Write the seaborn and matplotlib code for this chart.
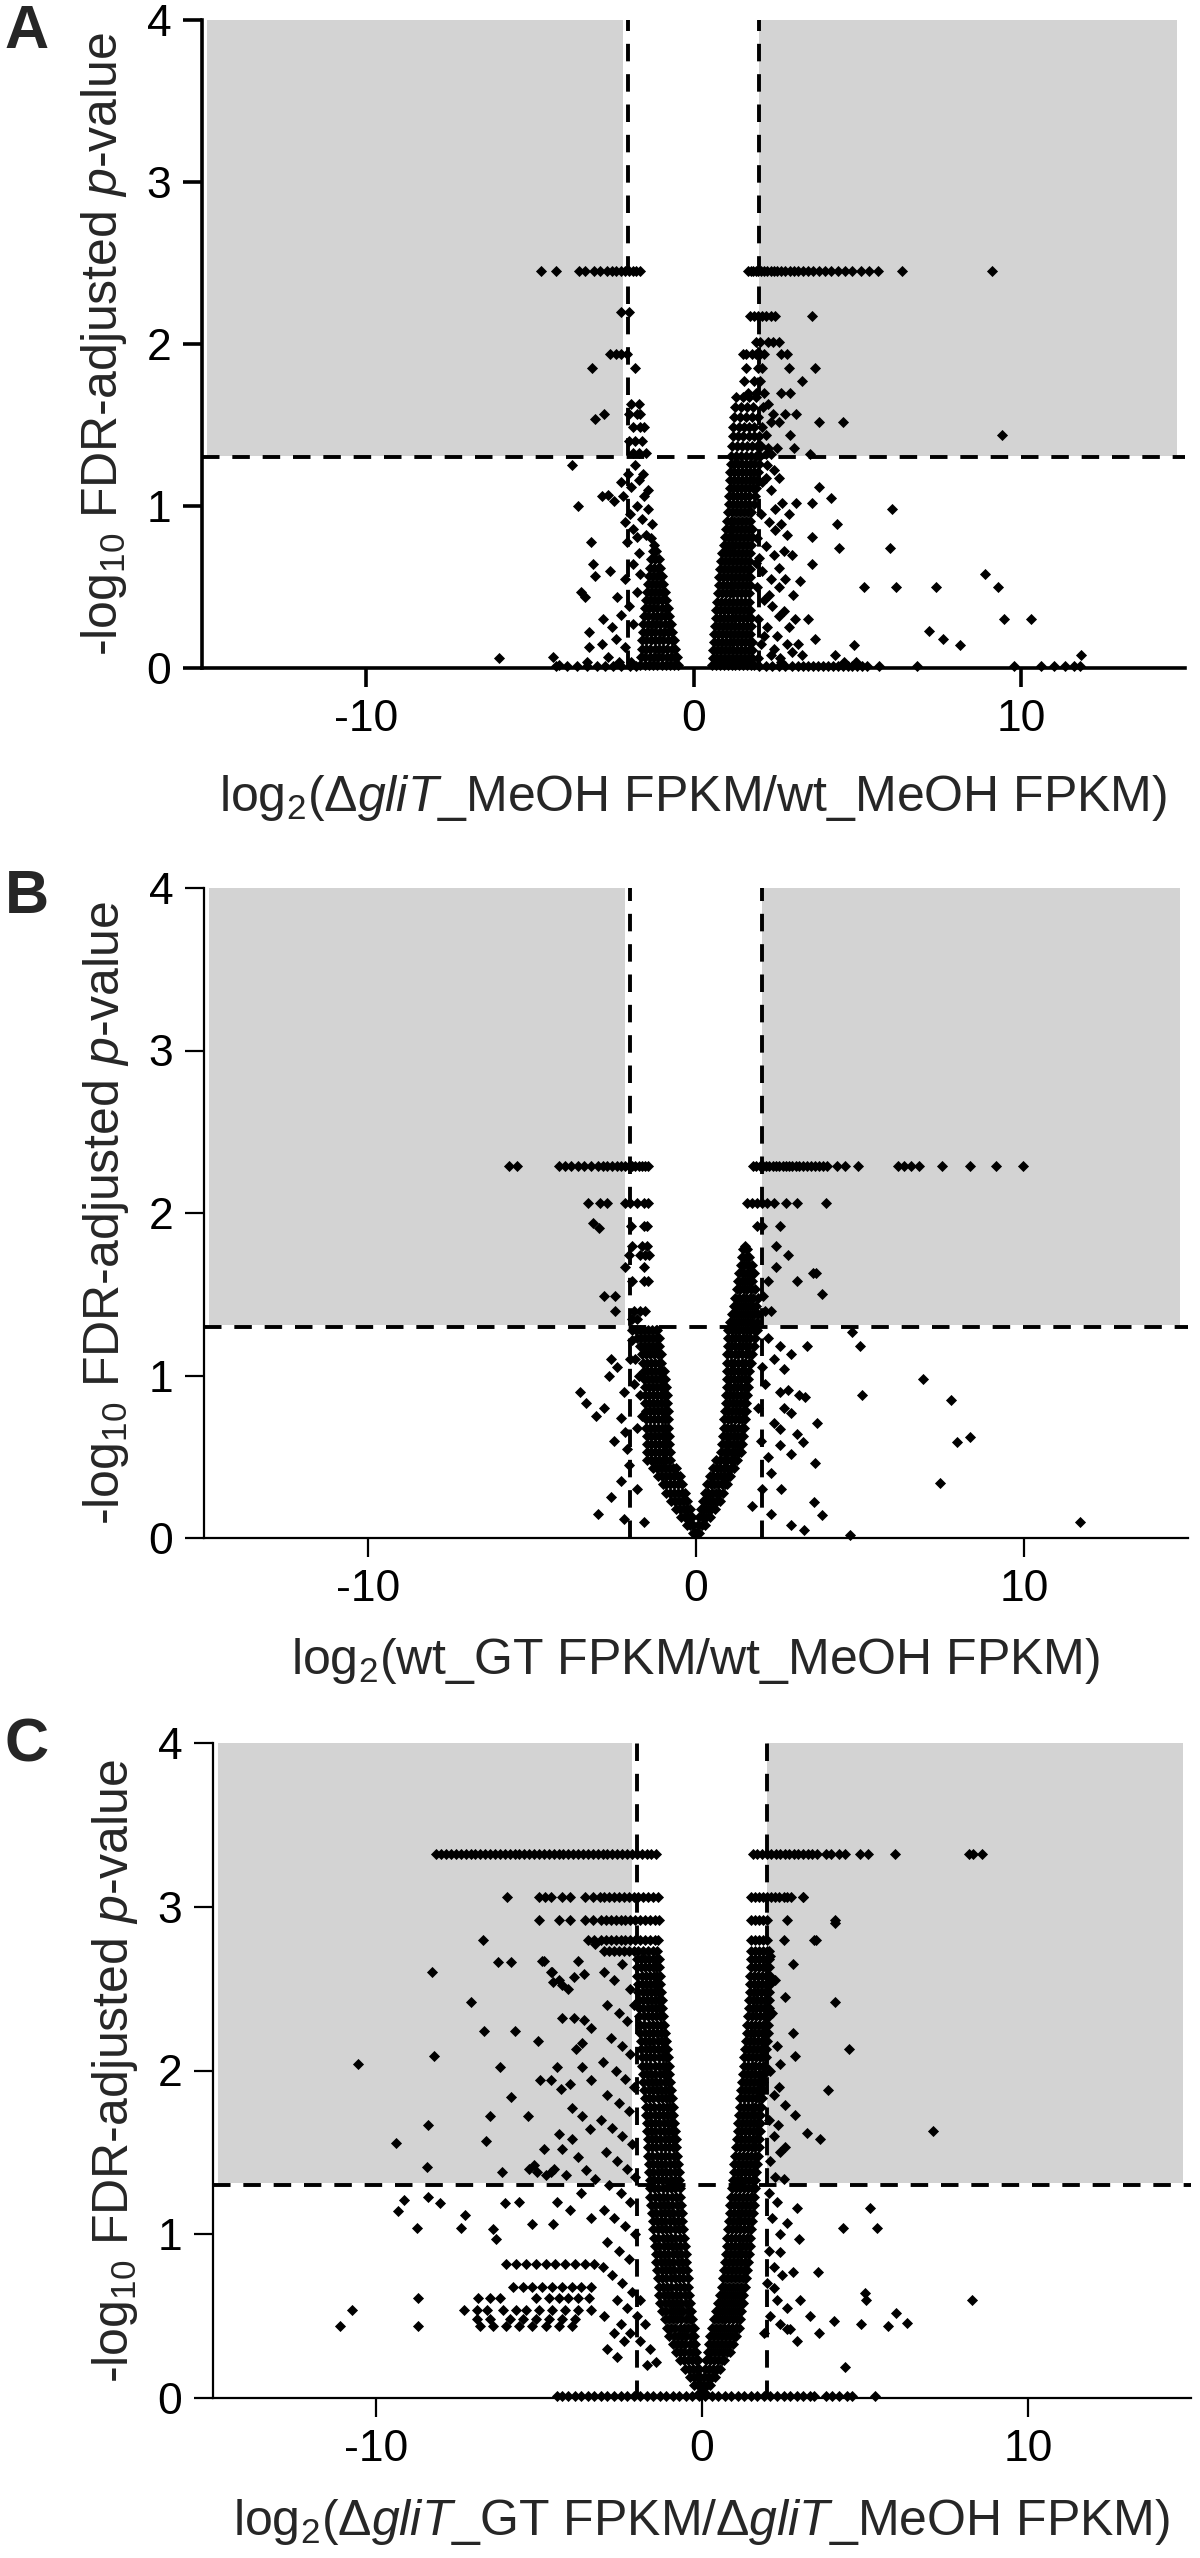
"""Volcano plots (A-C): -log10 FDR-adjusted p-value vs log2 fold change."""

import matplotlib.pyplot as plt
import pandas as pd
import seaborn as sns
from matplotlib.patches import Rectangle

# ---------------------------------------------------------------------------
# Panel A: log2(dgliT_MeOH FPKM / wt_MeOH FPKM)
# rows are (y, [x, ...]); pairs are (x, y)
# ---------------------------------------------------------------------------
a_top_y = 2.45
a_top_x = [-4.65, -4.2, -3.5, -3.3, -3.05, -2.85, -2.65, -2.5, -2.35, -2.2, -2.08,
           -1.97, -1.86, -1.75, -1.64,
           1.66, 1.74, 1.82, 1.9, 1.98, 2.06, 2.15, 2.25, 2.35, 2.45, 2.56, 2.68,
           2.8, 2.93, 3.06, 3.2, 3.35, 3.5, 3.65, 3.82, 4.0, 4.2, 4.4, 4.62, 4.85,
           5.1, 5.35, 5.62, 6.35, 9.1]

a_base_x = [-4.2, -3.85, -3.55, -3.25, -2.95, -2.7, -2.45, -2.2, -1.95, -1.75,
            2.0, 2.2, 2.4, 2.6, 2.8, 3.0, 3.2, 3.35, 3.5, 3.65, 3.8, 3.95, 4.1,
            4.25, 4.4, 4.55, 4.7, 4.85, 5.0, 5.15, 5.3, 5.66, 6.83, 9.77, 10.6,
            11.0, 11.35, 11.6, 11.8]

a_sig = [(1.73, 2.17), (1.85, 2.17), (1.96, 2.17), (2.08, 2.17), (2.2, 2.17),
         (2.37, 2.17), (2.49, 2.17), (3.61, 2.17), (1.9, 2.01), (2.02, 2.01),
         (2.26, 2.01), (2.43, 2.01), (2.61, 2.01), (1.5, 1.94), (1.61, 1.94),
         (1.79, 1.94), (1.9, 1.94), (2.02, 1.94), (2.14, 1.94), (2.67, 1.94),
         (2.84, 1.94), (1.61, 1.85), (1.96, 1.85), (2.08, 1.85), (2.9, 1.85),
         (3.72, 1.85), (1.55, 1.77), (1.85, 1.77), (2.02, 1.77), (3.31, 1.77),
         (1.67, 1.7), (1.9, 1.7), (2.14, 1.7), (2.67, 1.7), (2.96, 1.7),
         (2.26, 1.63), (2.43, 1.57), (2.78, 1.57), (3.14, 1.57), (2.37, 1.52),
         (2.61, 1.52), (3.84, 1.52), (4.55, 1.52), (2.2, 1.44), (2.96, 1.44),
         (9.42, 1.44), (2.26, 1.36), (2.55, 1.36), (3.08, 1.36), (2.2, 1.32),
         (2.37, 1.32), (3.55, 1.32),
         (-2.2, 2.2), (-1.97, 2.2), (-2.56, 1.94), (-2.38, 1.94), (-2.2, 1.94),
         (-2.03, 1.94), (-1.79, 1.85), (-3.1, 1.85), (-1.91, 1.63), (-1.67, 1.63),
         (-2.73, 1.57), (-1.97, 1.57), (-1.73, 1.57), (-1.62, 1.57), (-3.0, 1.54),
         (-1.85, 1.49), (-1.62, 1.49), (-1.5, 1.49), (-1.97, 1.4), (-1.79, 1.4),
         (-1.56, 1.4), (-1.85, 1.33), (-1.67, 1.33), (-1.44, 1.33)]

a_ns = [(2.2, 1.17), (2.6, 1.17), (3.84, 1.12), (4.19, 1.05), (3.14, 1.02),
        (3.61, 1.02), (6.07, 0.98), (2.67, 0.89), (4.37, 0.89), (3.61, 0.81),
        (4.43, 0.74), (6.01, 0.74), (3.61, 0.64), (8.89, 0.58), (3.25, 0.54),
        (5.19, 0.5), (6.19, 0.5), (7.4, 0.5), (9.3, 0.5), (9.48, 0.3),
        (10.3, 0.3), (3.49, 0.3), (7.19, 0.23), (7.6, 0.18), (3.72, 0.18),
        (4.9, 0.14), (8.12, 0.14), (4.31, 0.08), (11.82, 0.08), (2.67, 0.04),
        (4.6, 0.04), (4.96, 0.04),
        (2.1, 1.15), (2.35, 1.1), (2.05, 0.95), (2.3, 0.9), (2.5, 0.85),
        (1.95, 0.8), (2.2, 0.75), (2.45, 0.7), (2.75, 0.72), (1.9, 0.65),
        (2.1, 0.6), (2.35, 0.55), (2.6, 0.5), (1.95, 0.5), (2.15, 0.42),
        (2.4, 0.38), (2.75, 0.35), (1.98, 0.3), (2.25, 0.25), (2.55, 0.2),
        (2.85, 0.15), (2.05, 0.15), (2.35, 0.08), (1.98, 0.06), (2.65, 0.06),
        (3.0, 0.1), (3.3, 0.08), (2.0, 0.68), (2.45, 1.22), (2.7, 1.02),
        (2.9, 0.95), (2.5, 0.98), (2.8, 0.55), (3.05, 0.45), (2.9, 0.25),
        (3.1, 0.3), (2.6, 0.32), (2.3, 0.45), (2.15, 0.2), (2.45, 0.12),
        (3.2, 0.15), (2.6, 0.62), (2.85, 0.82), (3.0, 0.7), (2.25, 1.25),
        (-5.94, 0.06), (-4.28, 0.07), (-4.1, 0.02), (-3.54, 1.0), (-3.42, 0.47),
        (-3.3, 0.44), (-3.25, 0.04), (-3.2, 0.22), (-3.13, 0.78), (-3.07, 0.64),
        (-3.0, 0.57), (-3.19, 0.13), (-3.7, 1.25), (-2.79, 1.06), (-2.61, 1.07),
        (-2.44, 1.03), (-2.14, 1.06), (-1.91, 1.12), (-1.67, 1.16), (-1.5, 1.06),
        (-1.73, 1.0), (-1.38, 0.98), (-1.26, 0.89), (-1.56, 0.92), (-1.85, 0.86),
        (-2.03, 0.78), (-1.73, 0.81), (-1.44, 0.82), (-2.32, 0.44), (-2.09, 0.55),
        (-2.2, 0.33), (-2.38, 0.18), (-2.61, 0.07), (-2.09, 0.13), (-1.91, 0.04),
        (-1.85, 0.27), (-1.97, 0.38), (-2.26, 0.04), (-1.73, 0.47), (-1.85, 0.64),
        (-1.67, 0.71), (-1.62, 0.58), (-2.0, 1.2), (-1.8, 1.25), (-1.95, 0.95),
        (-2.1, 0.9), (-1.55, 1.2), (-1.4, 1.1), (-1.3, 0.8), (-1.2, 0.76),
        (-2.2, 1.15), (-2.5, 0.25), (-2.75, 0.3), (-2.55, 0.6), (-2.8, 0.15)]

a_left_lobe = [
    (0.02, [-1.62, -1.49, -1.36, -1.23, -1.1, -0.97, -0.84, -0.71, -0.58, -0.47]),
    (0.07, [-1.6, -1.47, -1.34, -1.21, -1.08, -0.95, -0.82, -0.69, -0.56, -0.51]),
    (0.12, [-1.58, -1.45, -1.32, -1.19, -1.06, -0.93, -0.8, -0.67, -0.56]),
    (0.17, [-1.57, -1.44, -1.31, -1.18, -1.05, -0.92, -0.79, -0.66, -0.6]),
    (0.22, [-1.55, -1.42, -1.29, -1.16, -1.03, -0.9, -0.77, -0.65]),
    (0.27, [-1.53, -1.4, -1.27, -1.14, -1.01, -0.88, -0.75, -0.69]),
    (0.32, [-1.51, -1.38, -1.25, -1.12, -0.99, -0.86, -0.74]),
    (0.37, [-1.49, -1.36, -1.23, -1.1, -0.97, -0.85, -0.78]),
    (0.42, [-1.46, -1.33, -1.2, -1.07, -0.95, -0.83]),
    (0.47, [-1.43, -1.3, -1.17, -1.04, -0.92, -0.87]),
    (0.52, [-1.4, -1.27, -1.14, -1.02, -0.92]),
    (0.57, [-1.37, -1.24, -1.11, -0.99, -0.96]),
    (0.62, [-1.33, -1.2, -1.08, -1.01]),
    (0.67, [-1.29, -1.17, -1.06]),
    (0.72, [-1.24, -1.13]),
]

a_right_lobe = [
    (0.02, [0.56, 0.68, 0.8, 0.92, 1.04, 1.16, 1.28, 1.4, 1.52, 1.64, 1.76, 1.86]),
    (0.06, [0.58, 0.7, 0.82, 0.94, 1.06, 1.18, 1.3, 1.42, 1.54, 1.66, 1.78]),
    (0.11, [0.6, 0.72, 0.84, 0.96, 1.08, 1.2, 1.32, 1.44, 1.56, 1.68, 1.8]),
    (0.16, [0.62, 0.74, 0.86, 0.98, 1.1, 1.22, 1.34, 1.46, 1.58, 1.7, 1.8]),
    (0.21, [0.64, 0.76, 0.88, 1.0, 1.12, 1.24, 1.36, 1.48, 1.6, 1.72]),
    (0.26, [0.66, 0.78, 0.9, 1.02, 1.14, 1.26, 1.38, 1.5, 1.62, 1.74]),
    (0.31, [0.68, 0.8, 0.92, 1.04, 1.16, 1.28, 1.4, 1.52, 1.64, 1.74]),
    (0.36, [0.7, 0.82, 0.94, 1.06, 1.18, 1.3, 1.42, 1.54, 1.66, 1.73]),
    (0.41, [0.72, 0.84, 0.96, 1.08, 1.2, 1.32, 1.44, 1.56, 1.68]),
    (0.46, [0.74, 0.86, 0.98, 1.1, 1.22, 1.34, 1.46, 1.58, 1.7]),
    (0.51, [0.77, 0.89, 1.01, 1.13, 1.25, 1.37, 1.49, 1.61, 1.72]),
    (0.56, [0.79, 0.91, 1.03, 1.15, 1.27, 1.39, 1.51, 1.63, 1.73]),
    (0.61, [0.81, 0.93, 1.05, 1.17, 1.29, 1.41, 1.53, 1.65, 1.73]),
    (0.66, [0.85, 0.97, 1.09, 1.21, 1.33, 1.45, 1.57, 1.69]),
    (0.71, [0.88, 1.0, 1.12, 1.24, 1.36, 1.48, 1.6, 1.72]),
    (0.76, [0.92, 1.04, 1.16, 1.28, 1.4, 1.52, 1.64, 1.76]),
    (0.81, [0.95, 1.07, 1.19, 1.31, 1.43, 1.55, 1.67, 1.78]),
    (0.86, [0.98, 1.1, 1.22, 1.34, 1.46, 1.58, 1.7, 1.8]),
    (0.91, [1.01, 1.13, 1.25, 1.37, 1.49, 1.61, 1.73]),
    (0.96, [1.05, 1.17, 1.29, 1.41, 1.53, 1.65, 1.77]),
    (1.01, [1.08, 1.2, 1.32, 1.44, 1.56, 1.68, 1.85]),
    (1.06, [1.09, 1.21, 1.33, 1.45, 1.57, 1.69, 1.88]),
    (1.11, [1.1, 1.22, 1.34, 1.46, 1.58, 1.7, 1.82, 1.91]),
    (1.16, [1.11, 1.23, 1.35, 1.47, 1.59, 1.71, 1.83, 1.94]),
    (1.21, [1.12, 1.24, 1.36, 1.48, 1.6, 1.72, 1.84, 1.97]),
    (1.26, [1.13, 1.25, 1.37, 1.49, 1.61, 1.73, 1.85, 2.0]),
    (1.31, [1.15, 1.3, 1.45, 1.6, 1.75, 1.9, 2.03]),
    (1.37, [1.18, 1.33, 1.48, 1.63, 1.78, 1.93, 2.06]),
    (1.43, [1.2, 1.36, 1.52, 1.68, 1.84, 2.0]),
    (1.49, [1.22, 1.38, 1.54, 1.7, 1.86, 2.08]),
    (1.55, [1.25, 1.42, 1.6, 1.78, 1.96]),
    (1.61, [1.28, 1.46, 1.64, 1.82, 2.12]),
    (1.67, [1.31, 1.5, 1.7, 1.92]),
]

# ---------------------------------------------------------------------------
# Panel B: log2(wt_GT FPKM / wt_MeOH FPKM)
# ---------------------------------------------------------------------------
b_top_y = 2.29
b_top_x = [-5.7, -5.45, -4.18, -4.0, -3.8, -3.6, -3.4, -3.2, -3.0, -2.85, -2.7,
           -2.55, -2.4, -2.28, -2.16, -2.05, -1.95, -1.85, -1.75, -1.65, -1.55,
           -1.47,
           1.74, 1.84, 1.94, 2.04, 2.14, 2.24, 2.34, 2.44, 2.54, 2.64, 2.74, 2.84,
           2.94, 3.04, 3.14, 3.25, 3.38, 3.5, 3.62, 3.75, 3.88, 4.0, 4.3, 4.54,
           4.95, 6.15, 6.35, 6.55, 6.8, 7.5, 8.35, 9.15, 9.97]

b_sig = [(-3.3, 2.06), (-2.93, 2.06), (-2.7, 2.06), (-2.17, 2.06), (-2.0, 2.06),
         (-1.8, 2.06), (-1.6, 2.06), (-1.45, 2.06), (1.56, 2.06), (1.7, 2.06),
         (1.85, 2.06), (2.0, 2.06), (2.15, 2.06), (2.38, 2.06), (2.73, 2.06),
         (3.08, 2.06), (3.95, 2.06), (-3.14, 1.94), (-2.97, 1.91), (-1.99, 1.92),
         (-1.6, 1.92), (-1.5, 1.92), (1.85, 1.92), (2.0, 1.92), (2.55, 1.92),
         (1.5, 1.8), (2.44, 1.8), (-1.95, 1.8), (-1.65, 1.8), (-1.5, 1.8),
         (2.79, 1.74), (-2.05, 1.74), (-1.7, 1.74), (-1.55, 1.74), (-1.43, 1.74),
         (-2.17, 1.67), (2.44, 1.67), (-1.6, 1.67), (3.66, 1.63), (3.57, 1.63),
         (3.08, 1.58), (2.2, 1.58), (-1.95, 1.58), (-1.6, 1.58), (-1.45, 1.58),
         (3.84, 1.5), (-2.81, 1.49), (-2.46, 1.49), (2.05, 1.49), (-2.46, 1.4),
         (2.1, 1.4), (2.3, 1.4), (-1.9, 1.4), (-1.7, 1.4), (-1.55, 1.4),
         (-1.95, 1.35), (-1.8, 1.35)]

b_ns = [(4.77, 1.27), (5.0, 1.18), (3.37, 1.18), (6.93, 0.98), (5.06, 0.88),
        (7.77, 0.85), (3.32, 0.87), (7.95, 0.59), (8.35, 0.62), (3.69, 0.71),
        (3.63, 0.46), (7.44, 0.34), (11.7, 0.1), (3.61, 0.22), (3.84, 0.14),
        (4.7, 0.02), (2.2, 1.23), (2.55, 1.18), (2.38, 1.1), (2.67, 1.04),
        (2.9, 1.13), (2.09, 0.95), (2.55, 0.9), (2.79, 0.91), (3.14, 0.88),
        (2.67, 0.8), (2.9, 0.77), (2.38, 0.71), (2.55, 0.67), (3.08, 0.64),
        (3.25, 0.59), (2.55, 0.57), (2.9, 0.52), (1.97, 0.6), (2.2, 0.5),
        (2.0, 1.05), (1.9, 0.8), (2.3, 0.4), (2.0, 0.3), (2.6, 0.3), (1.7, 0.2),
        (2.3, 0.15), (2.9, 0.08), (3.3, 0.05),
        (-2.58, 1.1), (-2.64, 1.0), (-2.4, 1.05), (-2.29, 0.74), (-2.17, 0.65),
        (-2.1, 0.55), (-3.54, 0.9), (-3.36, 0.83), (-3.06, 0.75), (-2.8, 0.8),
        (-2.5, 0.6), (-2.2, 0.9), (-2.0, 1.1), (-2.05, 0.45), (-2.3, 0.35),
        (-1.8, 0.3), (-2.6, 0.25), (-3.0, 0.15), (-2.2, 0.12), (-1.6, 0.1),
        (-1.95, 1.22), (-1.85, 1.1), (-1.75, 1.0), (-1.7, 0.88), (-1.65, 0.75),
        (-1.9, 0.95), (-1.8, 0.68)]

b_left_arm = [
    (0.03, [-0.1, -0.03]),
    (0.08, [-0.28, -0.17, -0.08]),
    (0.13, [-0.45, -0.34, -0.23, -0.13]),
    (0.18, [-0.6, -0.49, -0.38, -0.27, -0.19]),
    (0.23, [-0.75, -0.63, -0.51, -0.39, -0.27]),
    (0.28, [-0.9, -0.78, -0.66, -0.54, -0.42, -0.33]),
    (0.33, [-1.02, -0.9, -0.78, -0.66, -0.54, -0.42]),
    (0.38, [-1.15, -1.03, -0.91, -0.79, -0.67, -0.55, -0.5]),
    (0.43, [-1.3, -1.18, -1.06, -0.94, -0.82, -0.7, -0.62]),
    (0.48, [-1.5, -1.38, -1.26, -1.14, -1.02, -0.9, -0.79]),
    (0.53, [-1.5, -1.38, -1.26, -1.14, -1.02, -0.9, -0.79]),
    (0.58, [-1.5, -1.38, -1.26, -1.14, -1.02, -0.9, -0.81]),
    (0.63, [-1.5, -1.38, -1.26, -1.14, -1.02, -0.92, -0.83]),
    (0.68, [-1.52, -1.4, -1.28, -1.16, -1.04, -0.93, -0.84]),
    (0.73, [-1.52, -1.4, -1.28, -1.16, -1.04, -0.94, -0.85]),
    (0.78, [-1.53, -1.41, -1.29, -1.17, -1.05, -0.95, -0.86]),
    (0.83, [-1.54, -1.42, -1.3, -1.18, -1.06, -0.96, -0.87]),
    (0.88, [-1.55, -1.43, -1.31, -1.19, -1.07, -0.97, -0.89]),
    (0.93, [-1.56, -1.44, -1.32, -1.2, -1.08, -0.99, -0.91]),
    (0.98, [-1.58, -1.46, -1.34, -1.22, -1.1, -1.01, -0.94]),
    (1.03, [-1.6, -1.48, -1.36, -1.24, -1.12, -1.04, -0.98]),
    (1.08, [-1.62, -1.5, -1.38, -1.26, -1.14, -1.06]),
    (1.13, [-1.64, -1.52, -1.4, -1.28, -1.16, -1.07]),
    (1.18, [-1.7, -1.58, -1.46, -1.34, -1.22, -1.12]),
    (1.23, [-1.8, -1.68, -1.56, -1.44, -1.32, -1.2, -1.14]),
    (1.28, [-1.95, -1.83, -1.71, -1.59, -1.47, -1.35, -1.23, -1.18]),
]

b_right_arm = [
    (0.03, [0.03, 0.1]),
    (0.08, [0.06, 0.17, 0.28]),
    (0.13, [0.1, 0.21, 0.32, 0.43]),
    (0.18, [0.14, 0.25, 0.36, 0.47, 0.58]),
    (0.23, [0.2, 0.31, 0.42, 0.53, 0.64, 0.72]),
    (0.28, [0.27, 0.38, 0.49, 0.6, 0.71, 0.82]),
    (0.33, [0.34, 0.45, 0.56, 0.67, 0.78, 0.89, 0.95]),
    (0.38, [0.42, 0.53, 0.64, 0.75, 0.86, 0.97, 1.05]),
    (0.43, [0.52, 0.63, 0.74, 0.85, 0.96, 1.07, 1.15]),
    (0.48, [0.62, 0.73, 0.84, 0.95, 1.06, 1.17, 1.25]),
    (0.53, [0.76, 0.87, 0.98, 1.09, 1.2, 1.31, 1.37]),
    (0.58, [0.8, 0.91, 1.02, 1.13, 1.24, 1.35, 1.4]),
    (0.63, [0.82, 0.93, 1.04, 1.15, 1.26, 1.37, 1.43]),
    (0.68, [0.84, 0.95, 1.06, 1.17, 1.28, 1.39, 1.46]),
    (0.73, [0.86, 0.97, 1.08, 1.19, 1.3, 1.41, 1.49]),
    (0.78, [0.88, 0.99, 1.1, 1.21, 1.32, 1.43, 1.51]),
    (0.83, [0.9, 1.01, 1.12, 1.23, 1.34, 1.45, 1.53]),
    (0.88, [0.92, 1.03, 1.14, 1.25, 1.36, 1.47, 1.55]),
    (0.93, [0.93, 1.04, 1.15, 1.26, 1.37, 1.48, 1.58]),
    (0.98, [0.94, 1.05, 1.16, 1.27, 1.38, 1.49, 1.6]),
    (1.03, [0.95, 1.06, 1.17, 1.28, 1.39, 1.5, 1.63]),
    (1.08, [0.95, 1.06, 1.17, 1.28, 1.39, 1.5, 1.61, 1.68]),
    (1.13, [0.96, 1.07, 1.18, 1.29, 1.4, 1.51, 1.62, 1.72]),
    (1.18, [0.97, 1.08, 1.19, 1.3, 1.41, 1.52, 1.63, 1.76]),
    (1.23, [0.98, 1.09, 1.2, 1.31, 1.42, 1.53, 1.64, 1.8]),
    (1.28, [0.99, 1.1, 1.21, 1.32, 1.43, 1.54, 1.65, 1.76, 1.85]),
    (1.33, [1.05, 1.16, 1.27, 1.38, 1.49, 1.6, 1.71, 1.85]),
    (1.38, [1.1, 1.21, 1.32, 1.43, 1.54, 1.65, 1.76, 1.9]),
    (1.43, [1.15, 1.26, 1.37, 1.48, 1.59, 1.7, 1.82]),
    (1.48, [1.2, 1.31, 1.42, 1.53, 1.64, 1.75, 1.9]),
    (1.53, [1.24, 1.35, 1.46, 1.57, 1.68, 1.8]),
    (1.58, [1.28, 1.39, 1.5, 1.61, 1.72]),
    (1.63, [1.32, 1.43, 1.54, 1.65, 1.76]),
    (1.68, [1.36, 1.47, 1.58, 1.7]),
    (1.73, [1.4, 1.51, 1.62]),
    (1.78, [1.44, 1.55]),
]

# ---------------------------------------------------------------------------
# Panel C: log2(dgliT_GT FPKM / dgliT_MeOH FPKM)
# ---------------------------------------------------------------------------
c_rows = [
    (3.32, [-8.15, -8.0, -7.85, -7.7, -7.55, -7.4, -7.25, -7.1, -6.95, -6.8,
            -6.65, -6.5, -6.35, -6.2, -6.05, -5.9, -5.75, -5.6, -5.45, -5.3,
            -5.15, -5.0, -4.85, -4.7, -4.55, -4.4, -4.25, -4.1, -3.95, -3.8,
            -3.65, -3.5, -3.35, -3.2, -3.05, -2.9, -2.75, -2.6, -2.45, -2.3,
            -2.15, -2.0, -1.85, -1.7, -1.55, -1.4,
            1.56, 1.7, 1.84, 1.98, 2.12, 2.26, 2.4, 2.54, 2.68, 2.82, 2.96, 3.1,
            3.24, 3.38, 3.52, 3.8, 3.97, 4.2, 4.38, 4.85, 5.09, 5.91, 8.2, 8.31,
            8.6]),
    (3.06, [-5.98, -4.99, -4.81, -4.63, -4.28, -4.05, -3.58, -3.34, -3.13,
            -3.0, -2.85, -2.7, -2.55, -2.4, -2.25, -2.1, -1.95, -1.8, -1.65,
            -1.5, -1.35, 1.51, 1.63, 1.75, 1.87, 1.99, 2.11, 2.23, 2.35, 2.5,
            2.62, 2.74, 3.09]),
    (2.92, [-4.99, -4.4, -4.05, -3.58, -3.34, -3.1, -2.95, -2.8, -2.65, -2.5,
            -2.35, -2.2, -2.05, -1.9, -1.75, -1.6, -1.45, -1.32, 1.5, 1.62,
            1.74, 1.86, 1.98, 2.62, 4.09]),
    (2.80, [-6.72, -3.5, -3.3, -3.1, -2.95, -2.8, -2.65, -2.5, -2.35, -2.2,
            -2.05, -1.9, -1.75, -1.6, -1.45, -1.35, 1.5, 1.62, 1.74, 1.86, 1.98,
            2.5, 3.44]),
    (2.73, [-3.0, -2.85, -2.7, -2.55, -2.4, -2.25, -2.1, -1.95, -1.8, -1.65,
            -1.5, -1.38, 1.5, 1.62, 1.74, 1.86, 1.98, 2.05]),
]

c_base_x = [-4.45, -4.3, -4.1, -3.9, -3.7, -3.5, -3.3, -3.1, -2.9, -2.7, -2.5,
            -2.3, -2.1, -1.9, -1.7, -1.5, -1.3, -1.1, -0.9, -0.7, -0.5, -0.3,
            -0.1, 0.1, 0.3, 0.5, 0.7, 0.9, 1.1, 1.3, 1.5, 1.7, 1.9, 2.1, 2.3,
            2.5, 2.7, 2.9, 3.1, 3.3, 3.45, 3.8, 4.0, 4.2, 4.45, 4.6, 5.3]

c_left_arm = [
    (0.03, [-0.09, -0.03]),
    (0.08, [-0.24, -0.12, -0.05]),
    (0.13, [-0.38, -0.26, -0.14, -0.07]),
    (0.18, [-0.52, -0.4, -0.28, -0.16, -0.1]),
    (0.23, [-0.66, -0.54, -0.42, -0.3, -0.18, -0.13]),
    (0.28, [-0.8, -0.67, -0.54, -0.41, -0.28, -0.17]),
    (0.33, [-0.9, -0.77, -0.64, -0.51, -0.38, -0.25, -0.2]),
    (0.38, [-1.0, -0.87, -0.74, -0.61, -0.48, -0.35, -0.24]),
    (0.43, [-1.08, -0.95, -0.82, -0.69, -0.56, -0.43, -0.3, -0.26]),
    (0.48, [-1.15, -1.02, -0.89, -0.76, -0.63, -0.5, -0.37, -0.3]),
    (0.53, [-1.22, -1.09, -0.96, -0.83, -0.7, -0.57, -0.44, -0.33]),
    (0.58, [-1.28, -1.15, -1.02, -0.89, -0.76, -0.63, -0.5, -0.37]),
    (0.63, [-1.31, -1.18, -1.05, -0.92, -0.79, -0.66, -0.53, -0.4]),
    (0.68, [-1.33, -1.2, -1.07, -0.94, -0.81, -0.68, -0.55, -0.42]),
    (0.73, [-1.35, -1.22, -1.09, -0.96, -0.83, -0.7, -0.57, -0.44]),
    (0.78, [-1.37, -1.24, -1.11, -0.98, -0.85, -0.72, -0.59, -0.46]),
    (0.83, [-1.4, -1.27, -1.14, -1.01, -0.88, -0.75, -0.62, -0.48]),
    (0.88, [-1.42, -1.29, -1.16, -1.03, -0.9, -0.77, -0.64, -0.5]),
    (0.93, [-1.44, -1.31, -1.18, -1.05, -0.92, -0.79, -0.66, -0.52]),
    (0.98, [-1.47, -1.34, -1.21, -1.08, -0.95, -0.82, -0.69, -0.55]),
    (1.03, [-1.49, -1.36, -1.23, -1.1, -0.97, -0.84, -0.71, -0.57]),
    (1.08, [-1.51, -1.38, -1.25, -1.12, -0.99, -0.86, -0.73, -0.6]),
    (1.13, [-1.53, -1.4, -1.27, -1.14, -1.01, -0.88, -0.75, -0.62]),
    (1.18, [-1.56, -1.43, -1.3, -1.17, -1.04, -0.91, -0.78, -0.64]),
    (1.23, [-1.58, -1.45, -1.32, -1.19, -1.06, -0.93, -0.8, -0.66]),
    (1.28, [-1.6, -1.47, -1.34, -1.21, -1.08, -0.95, -0.82, -0.68]),
    (1.33, [-1.61, -1.48, -1.35, -1.22, -1.09, -0.96, -0.83, -0.7]),
    (1.38, [-1.62, -1.49, -1.36, -1.23, -1.1, -0.97, -0.84, -0.72]),
    (1.43, [-1.64, -1.51, -1.38, -1.25, -1.12, -0.99, -0.86, -0.75]),
    (1.48, [-1.65, -1.52, -1.39, -1.26, -1.13, -1.0, -0.87, -0.77]),
    (1.53, [-1.66, -1.53, -1.4, -1.27, -1.14, -1.01, -0.88, -0.79]),
    (1.58, [-1.67, -1.54, -1.41, -1.28, -1.15, -1.02, -0.9, -0.81]),
    (1.63, [-1.69, -1.56, -1.43, -1.3, -1.17, -1.04, -0.92, -0.83]),
    (1.68, [-1.7, -1.57, -1.44, -1.31, -1.18, -1.05, -0.94, -0.86]),
    (1.73, [-1.71, -1.58, -1.45, -1.32, -1.19, -1.06, -0.96, -0.88]),
    (1.78, [-1.72, -1.59, -1.46, -1.33, -1.2, -1.08, -0.98, -0.9]),
    (1.83, [-1.75, -1.62, -1.49, -1.36, -1.23, -1.11, -1.0, -0.93]),
    (1.88, [-1.77, -1.64, -1.51, -1.38, -1.25, -1.13, -1.02, -0.95]),
    (1.93, [-1.8, -1.67, -1.54, -1.41, -1.28, -1.15, -1.05, -0.98]),
    (1.98, [-1.82, -1.69, -1.56, -1.43, -1.3, -1.17, -1.07, -1.0]),
    (2.03, [-1.84, -1.71, -1.58, -1.45, -1.32, -1.19, -1.09, -1.02]),
    (2.08, [-1.85, -1.72, -1.59, -1.46, -1.33, -1.21, -1.11, -1.05]),
    (2.13, [-1.86, -1.73, -1.6, -1.47, -1.34, -1.22, -1.13, -1.07]),
    (2.18, [-1.88, -1.75, -1.62, -1.49, -1.36, -1.24, -1.15, -1.09]),
    (2.23, [-1.89, -1.76, -1.63, -1.5, -1.37, -1.25, -1.14]),
    (2.28, [-1.9, -1.77, -1.64, -1.51, -1.38, -1.27, -1.16]),
    (2.33, [-1.92, -1.79, -1.66, -1.53, -1.4, -1.29, -1.19]),
    (2.38, [-1.93, -1.8, -1.67, -1.54, -1.42, -1.31, -1.22]),
    (2.43, [-1.94, -1.81, -1.68, -1.55, -1.43, -1.33, -1.24]),
    (2.48, [-1.95, -1.82, -1.69, -1.56, -1.45, -1.35, -1.26]),
    (2.53, [-1.97, -1.84, -1.71, -1.58, -1.47, -1.37, -1.28]),
    (2.58, [-1.98, -1.85, -1.72, -1.6, -1.48, -1.38, -1.3]),
    (2.63, [-2.0, -1.87, -1.74, -1.62, -1.5, -1.4, -1.31]),
    (2.68, [-2.0, -1.87, -1.74, -1.62, -1.5, -1.4, -1.33]),
]

c_right_arm = [
    (0.03, [0.03, 0.09]),
    (0.08, [0.04, 0.15, 0.24]),
    (0.13, [0.07, 0.19, 0.31, 0.4]),
    (0.18, [0.09, 0.21, 0.33, 0.45, 0.54]),
    (0.23, [0.12, 0.24, 0.36, 0.48, 0.6, 0.68]),
    (0.28, [0.17, 0.29, 0.41, 0.53, 0.65, 0.77, 0.86]),
    (0.33, [0.22, 0.34, 0.46, 0.58, 0.7, 0.82, 0.95]),
    (0.38, [0.26, 0.38, 0.5, 0.62, 0.74, 0.86, 0.98, 1.05]),
    (0.43, [0.31, 0.43, 0.55, 0.67, 0.79, 0.91, 1.03, 1.12]),
    (0.48, [0.36, 0.48, 0.6, 0.72, 0.84, 0.96, 1.08, 1.17]),
    (0.53, [0.42, 0.54, 0.66, 0.78, 0.9, 1.02, 1.14, 1.21]),
    (0.58, [0.48, 0.6, 0.72, 0.84, 0.96, 1.08, 1.2, 1.26]),
    (0.63, [0.54, 0.66, 0.78, 0.9, 1.02, 1.14, 1.26]),
    (0.68, [0.6, 0.72, 0.84, 0.96, 1.08, 1.2, 1.32]),
    (0.73, [0.65, 0.77, 0.89, 1.01, 1.13, 1.25, 1.36]),
    (0.78, [0.68, 0.8, 0.92, 1.04, 1.16, 1.28, 1.39]),
    (0.83, [0.71, 0.83, 0.95, 1.07, 1.19, 1.31, 1.41]),
    (0.88, [0.73, 0.85, 0.97, 1.09, 1.21, 1.33, 1.44]),
    (0.93, [0.76, 0.88, 1.0, 1.12, 1.24, 1.36, 1.46]),
    (0.98, [0.78, 0.9, 1.02, 1.14, 1.26, 1.38, 1.48]),
    (1.03, [0.8, 0.92, 1.04, 1.16, 1.28, 1.4, 1.5]),
    (1.08, [0.82, 0.94, 1.06, 1.18, 1.3, 1.42, 1.53]),
    (1.13, [0.85, 0.97, 1.09, 1.21, 1.33, 1.45, 1.55]),
    (1.18, [0.87, 0.99, 1.11, 1.23, 1.35, 1.47, 1.58]),
    (1.23, [0.9, 1.02, 1.14, 1.26, 1.38, 1.5, 1.6]),
    (1.28, [0.92, 1.04, 1.16, 1.28, 1.4, 1.52, 1.62]),
    (1.33, [0.95, 1.07, 1.19, 1.31, 1.43, 1.55, 1.64]),
    (1.38, [0.97, 1.09, 1.21, 1.33, 1.45, 1.57, 1.67]),
    (1.43, [0.99, 1.11, 1.23, 1.35, 1.47, 1.59, 1.69]),
    (1.48, [1.02, 1.14, 1.26, 1.38, 1.5, 1.62, 1.72]),
    (1.53, [1.04, 1.16, 1.28, 1.4, 1.52, 1.64, 1.74]),
    (1.58, [1.07, 1.19, 1.31, 1.43, 1.55, 1.67, 1.75]),
    (1.63, [1.09, 1.21, 1.33, 1.45, 1.57, 1.69, 1.77]),
    (1.68, [1.11, 1.23, 1.35, 1.47, 1.59, 1.7, 1.78]),
    (1.73, [1.13, 1.25, 1.37, 1.49, 1.61, 1.72, 1.79]),
    (1.78, [1.16, 1.28, 1.4, 1.52, 1.64, 1.74, 1.81]),
    (1.83, [1.18, 1.3, 1.42, 1.54, 1.66, 1.76, 1.83]),
    (1.88, [1.21, 1.33, 1.45, 1.57, 1.69, 1.79, 1.86]),
    (1.93, [1.23, 1.35, 1.47, 1.59, 1.71, 1.81, 1.88]),
    (1.98, [1.26, 1.38, 1.5, 1.62, 1.74, 1.84, 1.91]),
    (2.03, [1.28, 1.4, 1.52, 1.64, 1.76, 1.86, 1.93]),
    (2.08, [1.3, 1.42, 1.54, 1.66, 1.78, 1.88, 1.95]),
    (2.13, [1.33, 1.45, 1.57, 1.69, 1.81, 1.9, 1.97]),
    (2.18, [1.35, 1.47, 1.59, 1.71, 1.83, 1.92, 1.99]),
    (2.23, [1.37, 1.49, 1.61, 1.73, 1.85, 1.94, 2.01]),
    (2.28, [1.39, 1.51, 1.63, 1.75, 1.87, 1.96, 2.03]),
    (2.33, [1.41, 1.53, 1.65, 1.77, 1.89, 1.98, 2.04]),
    (2.38, [1.43, 1.55, 1.67, 1.79, 1.91, 2.0, 2.05]),
    (2.43, [1.44, 1.56, 1.68, 1.8, 1.92, 2.01, 2.06]),
    (2.48, [1.46, 1.58, 1.7, 1.82, 1.94, 2.03, 2.07]),
    (2.53, [1.47, 1.59, 1.71, 1.83, 1.95, 2.04, 2.08]),
    (2.58, [1.48, 1.6, 1.72, 1.84, 1.96, 2.05, 2.09]),
    (2.63, [1.5, 1.62, 1.74, 1.86, 1.98, 2.06]),
    (2.68, [1.51, 1.63, 1.75, 1.87, 1.99, 2.05]),
]

c_left_scatter = [
    (-6.26, 2.66), (-5.85, 2.66), (-8.27, 2.6), (-7.1, 2.42), (-4.86, 2.67),
    (-4.6, 2.6), (-4.4, 2.55), (-4.1, 2.5), (-6.68, 2.24), (-5.74, 2.24),
    (-5.04, 2.18), (-8.21, 2.09), (-10.55, 2.04), (-6.21, 2.02), (-5.86, 1.84),
    (-6.5, 1.72), (-5.33, 1.72), (-8.39, 1.67), (-9.38, 1.56), (-6.62, 1.57),
    (-8.45, 1.41), (-6.15, 1.38), (-5.3, 1.4), (-5.05, 1.38), (-4.8, 1.36),
    (-4.55, 1.4), (-4.92, 2.67), (-4.63, 2.6), (-4.57, 2.54), (-4.28, 2.52),
    (-3.81, 2.67), (-3.93, 2.57), (-3.63, 2.59), (-3.28, 2.77), (-4.28, 2.32),
    (-3.93, 2.32), (-3.63, 2.31), (-3.4, 2.26), (-3.87, 2.13), (-3.69, 2.17),
    (-4.45, 2.02), (-4.04, 1.92), (-3.69, 2.02), (-3.4, 1.94), (-4.63, 1.94),
    (-4.34, 1.89), (-4.98, 1.94), (-3.98, 1.77), (-3.69, 1.72), (-3.45, 1.64),
    (-4.39, 1.61), (-3.98, 1.58), (-4.28, 1.52), (-3.81, 1.47), (-4.86, 1.52),
    (-4.63, 1.38), (-4.16, 1.36), (-3.57, 1.39), (-3.28, 1.34), (-5.16, 1.42),
    (-3.0, 2.6), (-2.7, 2.55), (-2.45, 2.65), (-2.2, 2.5), (-2.9, 2.4),
    (-2.55, 2.35), (-2.3, 2.3), (-2.1, 2.4), (-2.8, 2.2), (-2.45, 2.15),
    (-2.2, 2.1), (-3.05, 2.05), (-2.65, 2.0), (-2.35, 1.95), (-2.1, 1.9),
    (-2.9, 1.85), (-2.55, 1.8), (-2.25, 1.75), (-3.1, 1.7), (-2.75, 1.65),
    (-2.45, 1.6), (-2.15, 1.55), (-2.95, 1.5), (-2.6, 1.45), (-2.3, 1.4),
    (-2.05, 1.35), (-2.85, 1.3), (-2.5, 1.25), (-2.2, 1.2), (-3.0, 1.15),
    (-2.7, 1.1), (-2.35, 1.05), (-2.05, 1.0), (-2.9, 0.95), (-2.55, 0.9),
    (-2.25, 0.85), (-3.05, 0.8), (-2.75, 0.75), (-2.45, 0.7), (-2.15, 0.65),
    (-1.9, 0.6), (-2.6, 0.6), (-2.3, 0.55), (-2.0, 0.5), (-1.75, 0.45),
    (-2.5, 0.45), (-2.2, 0.4), (-1.9, 0.35), (-1.6, 0.3), (-1.4, 0.22),
    (-1.7, 0.2), (-3.0, 0.5), (-2.7, 0.4), (-2.4, 0.35), (-2.6, 0.25),
    (-2.9, 0.3),
    (-9.15, 1.21), (-9.32, 1.14), (-8.39, 1.23), (-8.04, 1.19), (-7.28, 1.12),
    (-8.74, 1.04), (-7.4, 1.04), (-6.4, 1.03), (-6.33, 0.97), (-6.04, 1.19),
    (-5.22, 1.06), (-4.58, 1.06), (-4.45, 1.2), (-4.05, 1.15), (-3.7, 1.25),
    (-3.4, 1.1), (-5.6, 1.2),
    (-6.0, 0.82), (-5.7, 0.82), (-5.4, 0.82), (-5.1, 0.82), (-4.8, 0.82),
    (-4.5, 0.82), (-4.2, 0.82), (-3.9, 0.82), (-3.6, 0.82), (-3.3, 0.82),
    (-5.8, 0.68), (-5.5, 0.68), (-5.2, 0.68), (-4.9, 0.68), (-4.6, 0.68),
    (-4.3, 0.68), (-4.0, 0.68), (-3.7, 0.68), (-3.4, 0.68),
    (-8.7, 0.61), (-6.87, 0.61), (-6.5, 0.61), (-6.2, 0.61), (-5.1, 0.61),
    (-4.7, 0.61), (-4.4, 0.61), (-4.1, 0.61), (-3.8, 0.61), (-3.46, 0.61),
    (-10.74, 0.54), (-7.3, 0.54), (-6.9, 0.54), (-6.6, 0.54), (-6.1, 0.54),
    (-5.7, 0.54), (-5.4, 0.54), (-5.0, 0.54), (-4.6, 0.54), (-4.2, 0.54),
    (-3.8, 0.54), (-3.4, 0.54),
    (-6.9, 0.48), (-6.5, 0.48), (-5.9, 0.48), (-5.5, 0.48), (-5.1, 0.48),
    (-4.7, 0.48), (-4.3, 0.48), (-3.9, 0.48),
    (-11.1, 0.44), (-8.7, 0.44), (-6.8, 0.44), (-6.4, 0.44), (-6.0, 0.44),
    (-5.6, 0.44), (-5.2, 0.44), (-4.8, 0.44), (-4.4, 0.44), (-4.0, 0.44),
]

c_right_scatter = [
    (3.09, 3.06), (4.09, 2.9), (3.5, 2.8), (2.8, 2.65), (2.56, 2.45), (4.09, 2.42),
    (2.8, 2.23), (4.5, 2.13), (2.86, 2.09), (2.39, 2.04), (3.85, 1.88),
    (2.56, 1.79), (2.86, 1.73), (3.21, 1.62), (3.62, 1.58), (7.08, 1.63),
    (2.56, 1.53), (2.33, 1.67), (2.5, 1.34), (5.14, 1.16), (4.32, 1.04),
    (5.38, 1.04), (2.91, 1.16), (2.62, 1.07), (2.97, 0.97), (2.8, 0.77),
    (3.56, 0.77), (5.03, 0.6), (2.39, 0.89), (2.21, 0.67),
    (2.1, 2.7), (2.25, 2.55), (2.15, 2.35), (2.3, 2.15), (2.1, 2.0), (2.2, 1.85),
    (2.35, 1.9), (2.05, 1.7), (2.2, 1.6), (2.4, 1.5), (2.1, 1.45), (2.25, 1.35),
    (2.05, 1.25), (2.3, 1.2), (2.15, 1.1), (2.4, 1.0), (2.05, 0.9), (2.2, 0.8),
    (2.45, 0.75), (2.0, 0.7), (2.3, 0.6), (2.6, 0.55), (2.1, 0.5), (2.4, 0.45),
    (2.7, 0.42), (1.9, 0.4),
    (4.05, 0.47), (4.99, 0.64), (4.87, 0.45), (5.7, 0.44), (5.94, 0.52),
    (6.3, 0.46), (8.27, 0.6), (4.4, 0.19), (2.6, 0.42), (3.0, 0.6), (3.3, 0.5),
    (2.9, 0.35), (3.6, 0.4),
]

x_labels = [
    r"log$_2$($\Delta\mathit{gliT}$_MeOH FPKM/wt_MeOH FPKM)",
    r"log$_2$(wt_GT FPKM/wt_MeOH FPKM)",
    r"log$_2$($\Delta\mathit{gliT}$_GT FPKM/$\Delta\mathit{gliT}$_MeOH FPKM)",
]
y_label = r"-log$_{10}$ FDR-adjusted $\mathit{p}$-value"
panel_letters = ["A", "B", "C"]


def rows_to_pairs(rows):
    return [(x, y) for y, xs in rows for x in xs]


def line_to_pairs(y, xs):
    return [(x, y) for x in xs]


def build_frame(*groups):
    pairs = [p for g in groups for p in g]
    return pd.DataFrame(pairs, columns=["log2fc", "neglog10p"])


df_a = build_frame(line_to_pairs(a_top_y, a_top_x), line_to_pairs(0.01, a_base_x),
                   a_sig, a_ns, rows_to_pairs(a_left_lobe), rows_to_pairs(a_right_lobe))
df_b = build_frame(line_to_pairs(b_top_y, b_top_x), b_sig, b_ns,
                   rows_to_pairs(b_left_arm), rows_to_pairs(b_right_arm))
df_c = build_frame(rows_to_pairs(c_rows), line_to_pairs(0.01, c_base_x),
                   rows_to_pairs(c_left_arm), rows_to_pairs(c_right_arm),
                   c_left_scatter, c_right_scatter)

# ---------------------------------------------------------------------------
sns.set_theme(style="ticks")
plt.rcParams["font.family"] = ["Liberation Sans", "DejaVu Sans"]
plt.rcParams["mathtext.fontset"] = "custom"
plt.rcParams["mathtext.rm"] = "Liberation Sans"
plt.rcParams["mathtext.it"] = "Liberation Sans:italic"
plt.rcParams["mathtext.bf"] = "Liberation Sans:bold"
plt.rcParams["axes.unicode_minus"] = False

fig = plt.figure(figsize=(12, 25.58), dpi=100)
H = 2558.0
W = 1200.0

# axes boxes in pixels: (left, right, top, bottom), spine width (pt), xlabel offset
layout = [
    (202, 1185, 20, 668, 2.6, -0.2),
    (204, 1188, 888, 1538, 1.6, -0.19),
    (213, 1191, 1743, 2398, 1.6, -0.19),
]
letter_y = [33, 898, 1746]
frames = [df_a, df_b, df_c]

for i, (left, right, top, bottom, lw, xlab_y) in enumerate(layout):
    ax = fig.add_axes([left / W, 1 - bottom / H, (right - left) / W, (bottom - top) / H])
    ax.set_facecolor("white")

    # shaded "significant" regions
    ax.add_patch(Rectangle((-14.85, 1.31), 12.7, 2.69, facecolor="#d3d3d3",
                           edgecolor="none", zorder=0.5))
    ax.add_patch(Rectangle((2.0, 1.31), 12.75, 2.69, facecolor="#d3d3d3",
                           edgecolor="none", zorder=0.5))

    sns.scatterplot(data=frames[i], x="log2fc", y="neglog10p", ax=ax, color="black",
                    marker="D", s=32, linewidth=0, clip_on=False, zorder=3,
                    legend=False)

    dash = dict(color="black", lw=2.8, dashes=(4.5, 3.3), zorder=2)
    ax.axhline(1.3, **dash)
    ax.axvline(-2, **dash)
    ax.axvline(2, **dash)

    ax.set_xlim(-15, 15)
    ax.set_ylim(0, 4)
    ax.set_xticks([-10, 0, 10])
    ax.set_yticks([0, 1, 2, 3, 4])
    sns.despine(ax=ax)
    for side in ("left", "bottom"):
        ax.spines[side].set_linewidth(lw)
        ax.spines[side].set_color("black")
    ax.tick_params(axis="both", length=14, width=lw, labelsize=32, color="black",
                   labelcolor="black")
    ax.tick_params(axis="x", pad=8)
    ax.tick_params(axis="y", pad=8)

    ax.set_xlabel(x_labels[i], fontsize=36, va="center")
    ax.xaxis.set_label_coords(0.5, xlab_y)
    ax.set_ylabel(y_label, fontsize=36, va="center")
    ax.yaxis.set_label_coords(-0.1, 0.5)
    ax.grid(False)

    fig.text(27 / W, 1 - letter_y[i] / H, panel_letters[i], fontsize=44,
             fontweight="bold", ha="center", va="center")

fig.savefig("out.png", dpi=100)
